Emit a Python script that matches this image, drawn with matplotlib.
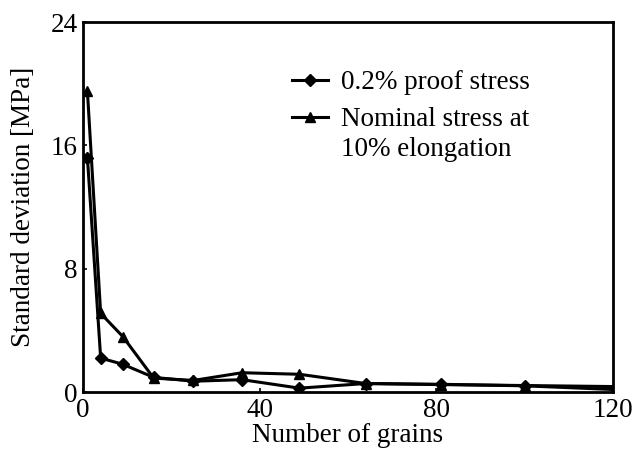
import matplotlib
matplotlib.use("Agg")
import matplotlib.pyplot as plt

matplotlib.rcParams["font.family"] = "Liberation Serif"
matplotlib.rcParams["font.size"] = 19.5

# grain counts (n x n grids) and scatter of the stresses
grains = [1, 4, 9, 16, 25, 36, 49, 64, 81, 100, 121]
proof_sd = [15.2, 2.2, 1.8, 0.95, 0.7, 0.8, 0.25, 0.55, 0.5, 0.4, 0.15]
nominal_sd = [19.5, 5.1, 3.6, 0.9, 0.75, 1.25, 1.15, 0.55, 0.48, 0.42, 0.35]

fig = plt.figure(figsize=(6.35, 4.59), dpi=100)
ax = fig.add_axes([83 / 635, 1 - 392 / 459, 530 / 635, 370 / 459])

ax.plot(grains, proof_sd, color="black", lw=2.2, marker="D", ms=6,
        label="0.2% proof stress")
ax.plot(grains, nominal_sd, color="black", lw=2.2, marker="^", ms=7,
        label="Nominal stress at")

ax.set_xlim(0, 120)
ax.set_ylim(0, 24)
ax.set_xticks([0, 40, 80, 120])
ax.set_yticks([0, 8, 16, 24])
ax.tick_params(direction="in", length=3, width=1.2, pad=4)
for s in ax.spines.values():
    s.set_linewidth(2)

ax.set_xlabel("Number of grains", labelpad=0)
ax.set_ylabel("Standard deviation [MPa]", labelpad=10)

leg = ax.legend(loc="upper left", bbox_to_anchor=(0.395, 0.87), frameon=False,
                borderpad=0, borderaxespad=0,
                handlelength=1.3, handletextpad=0.5, labelspacing=0.45)
# second line of the nominal stress label, kept under its first line so the
# marker stays level with "Nominal stress at"; drawn after the legend
ax.annotate("10% elongation", xy=(0, 0), xycoords=leg.get_texts()[1],
            xytext=(0, -30), textcoords="offset pixels", va="bottom",
            zorder=leg.get_zorder() + 1)

fig.savefig("out.png", dpi=100)
